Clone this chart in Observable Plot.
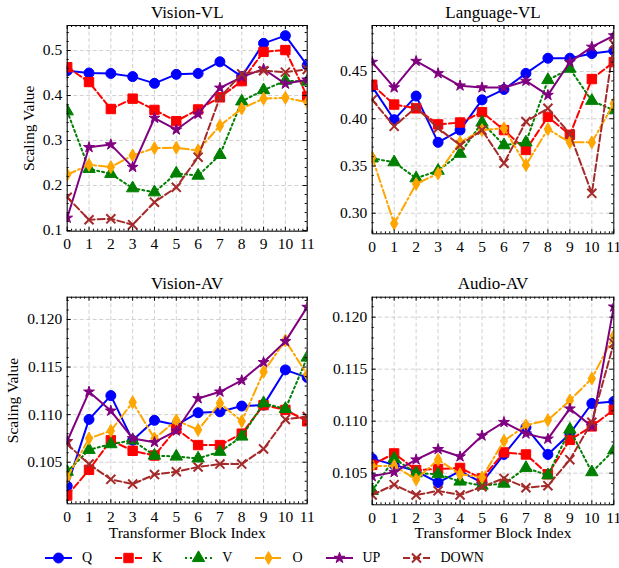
<!DOCTYPE html>
<html><head><meta charset="utf-8">
<script src="https://cdn.jsdelivr.net/npm/d3@7"></script>
<script src="https://cdn.jsdelivr.net/npm/@observablehq/plot@0.6"></script>
<style>
body{margin:0;background:#fff;}
#root{position:relative;width:619px;height:568px;font-family:"Liberation Serif",serif;background:#fff;overflow:hidden;}
#root svg.pl{position:absolute;left:0;top:0;}
#legend{position:absolute;left:45px;top:550px;display:flex;align-items:center;font-size:14px;line-height:16px;}
</style></head><body><div id="root"></div>
<script>
// ---------- data ----------
const blockIndex = [0,1,2,3,4,5,6,7,8,9,10,11];
const seriesNames = ["Q","K","V","O","UP","DOWN"];
const panelTitles = ["Vision-VL","Language-VL","Vision-AV","Audio-AV"];
const yLabel = "Scaling Value";
const xLabel = "Transformer Block Index";

const visionVL_Q    = [0.455,0.450,0.449,0.442,0.427,0.447,0.449,0.475,0.442,0.516,0.533,0.467];
const visionVL_K    = [0.463,0.430,0.370,0.393,0.368,0.343,0.369,0.396,0.432,0.497,0.501,0.398];
const visionVL_V    = [0.365,0.237,0.226,0.194,0.185,0.227,0.222,0.268,0.387,0.412,0.433,0.431];
const visionVL_O    = [0.224,0.246,0.241,0.267,0.283,0.284,0.278,0.333,0.371,0.393,0.395,0.385];
const visionVL_UP   = [0.128,0.285,0.291,0.241,0.350,0.324,0.359,0.417,0.441,0.459,0.426,0.435];
const visionVL_DOWN = [0.174,0.124,0.126,0.113,0.163,0.196,0.263,0.396,0.448,0.455,0.452,0.458];

const languageVL_Q    = [0.434,0.399,0.424,0.375,0.388,0.420,0.431,0.448,0.464,0.464,0.469,0.472];
const languageVL_K    = [0.436,0.415,0.411,0.394,0.396,0.407,0.388,0.367,0.402,0.383,0.442,0.460];
const languageVL_V    = [0.358,0.354,0.337,0.345,0.363,0.396,0.372,0.375,0.441,0.453,0.419,0.409];
const languageVL_O    = [0.359,0.289,0.331,0.342,0.375,0.388,0.390,0.351,0.389,0.375,0.375,0.416];
const languageVL_UP   = [0.460,0.433,0.461,0.448,0.435,0.433,0.433,0.440,0.425,0.460,0.476,0.488];
const languageVL_DOWN = [0.420,0.392,0.412,0.390,0.372,0.388,0.353,0.397,0.411,0.384,0.321,0.479];

const visionAV_Q    = [0.1025,0.1095,0.1120,0.1073,0.1094,0.1089,0.1102,0.1103,0.1109,0.1110,0.1147,0.1139];
const visionAV_K    = [0.1015,0.1042,0.1073,0.1062,0.1057,0.1085,0.1068,0.1068,0.1080,0.1110,0.1105,0.1093];
const visionAV_V    = [0.1040,0.1063,0.1069,0.1073,0.1057,0.1056,0.1054,0.1061,0.1077,0.1112,0.1106,0.1160];
const visionAV_O    = [0.1034,0.1075,0.1083,0.1113,0.1075,0.1094,0.1084,0.1112,0.1093,0.1145,0.1178,0.1142];
const visionAV_UP   = [0.1072,0.1124,0.1104,0.1075,0.1071,0.1083,0.1117,0.1124,0.1136,0.1155,0.1177,0.1213];
const visionAV_DOWN = [0.1069,0.1048,0.1032,0.1027,0.1037,0.1040,0.1045,0.1048,0.1048,0.1064,0.1095,0.1098];

const audioAV_Q    = [0.1064,0.1058,0.1052,0.1041,0.1052,0.1041,0.1068,0.1094,0.1068,0.1088,0.1117,0.1119];
const audioAV_K    = [0.1058,0.1069,0.1053,0.1054,0.1055,0.1045,0.1070,0.1068,0.1049,0.1082,0.1095,0.1111];
const audioAV_V    = [0.1033,0.1064,0.1050,0.1049,0.1042,0.1038,0.1040,0.1055,0.1048,0.1092,0.1051,0.1072];
const audioAV_O    = [0.1057,0.1057,0.1044,0.1063,0.1049,0.1046,0.1081,0.1096,0.1101,0.1120,0.1141,0.1182];
const audioAV_UP   = [0.1047,0.1051,0.1063,0.1073,0.1066,0.1086,0.1099,0.1088,0.1083,0.1112,0.1095,0.1210];
const audioAV_DOWN = [0.1029,0.1039,0.1029,0.1033,0.1029,0.1037,0.1045,0.1036,0.1038,0.1063,0.1099,0.1175];

const yTicksVL1 = [0.1,0.2,0.3,0.4,0.5];
const yTicksVL2 = [0.30,0.35,0.40,0.45];
const yTicksAV  = [0.105,0.110,0.115,0.120];

// ---------- styles ----------
const seriesStyle = {
  Q:    {color:"#0000ff", dash:null,        symbol:d3.symbolCircle,   r:5,   filled:true},
  K:    {color:"#ff0000", dash:"7,3",       symbol:d3.symbolSquare,   r:5.3, filled:true},
  V:    {color:"#008000", dash:"2,3",       symbol:d3.symbolTriangle, r:4.6, filled:true},
  O:    {color:"#ffa500", dash:"9,3,2,3",   symbol:d3.symbolDiamond,  r:3.9, filled:true},
  UP:   {color:"#800080", dash:null,        symbol:d3.symbolStar,     r:3.4, filled:true},
  DOWN: {color:"#a52a2a", dash:"7,3",       symbol:d3.symbolTimes,    r:4.2, filled:false}
};

const W = 619, H = 568;
const panels = [
  {title:panelTitles[0], values:[visionVL_Q,visionVL_K,visionVL_V,visionVL_O,visionVL_UP,visionVL_DOWN],
   frame:[66.7,25,306.7,230.7], domain:[0.0985,0.5556], ticks:yTicksVL1, step:0.1, fmt:d3.format(".1f"), ylab:-37.7, xlab:null},
  {title:panelTitles[1], values:[languageVL_Q,languageVL_K,languageVL_V,languageVL_O,languageVL_UP,languageVL_DOWN],
   frame:[371.7,25,613.3,233.3], domain:[0.2782,0.4987], ticks:yTicksVL2, step:0.05, fmt:d3.format(".2f"), ylab:null, xlab:null},
  {title:panelTitles[2], values:[visionAV_Q,visionAV_K,visionAV_V,visionAV_O,visionAV_UP,visionAV_DOWN],
   frame:[66.7,296.7,306.7,503.3], domain:[0.10063,0.12234], ticks:yTicksAV, step:0.005, fmt:d3.format(".3f"), ylab:-53.7, xlab:29.7},
  {title:panelTitles[3], values:[audioAV_Q,audioAV_K,audioAV_V,audioAV_O,audioAV_UP,audioAV_DOWN],
   frame:[371.7,296.7,613.3,504.3], domain:[0.10196,0.12192], ticks:yTicksAV, step:0.005, fmt:d3.format(".3f"), ylab:null, xlab:28.7}
];

const root = document.getElementById("root");
const gridStyle = {stroke:"#c4c4c4", strokeWidth:0.8, strokeDasharray:"4,2.5"};
const xMinor = d3.range(0, 11.0001, 0.2).filter(v => Math.abs(v - Math.round(v)) > 1e-6);

panels.forEach(p => {
  const [fl, ft, fr, fb] = p.frame;
  const innerW = fr - fl, innerH = fb - ft;
  const ms = p.step / 5;
  const yMinor = d3.range(Math.ceil(p.domain[0]/ms), Math.floor(p.domain[1]/ms)+1)
    .map(k => +(k*ms).toFixed(6))
    .filter(v => p.ticks.every(t => Math.abs(t - v) > ms/10));

  const marks = [
    Plot.ruleX(blockIndex, {x: d => d, ...gridStyle}),
    Plot.ruleY(p.ticks, {y: d => d, ...gridStyle})
  ];
  seriesNames.forEach((s, i) => {
    const st = seriesStyle[s];
    const rows = p.values[i].map((v, j) => ({x: blockIndex[j], y: v}));
    marks.push(Plot.line(rows, {x:"x", y:"y", stroke: st.color, strokeWidth: 2, strokeDasharray: st.dash ?? undefined, clip: true}));
    marks.push(Plot.dot(rows, {x:"x", y:"y", symbol: st.symbol, r: st.r,
      fill: st.filled ? st.color : "none", stroke: st.color, strokeWidth: st.filled ? 1 : 2, clip: true}));
  });
  // inward ticks on all four sides
  marks.push(
    Plot.tickX(blockIndex, {x: d => d, insetTop: innerH - 4, stroke: "black"}),
    Plot.tickX(blockIndex, {x: d => d, insetBottom: innerH - 4, stroke: "black"}),
    Plot.tickX(xMinor, {x: d => d, insetTop: innerH - 2, stroke: "black"}),
    Plot.tickX(xMinor, {x: d => d, insetBottom: innerH - 2, stroke: "black"}),
    Plot.tickY(p.ticks, {y: d => d, insetRight: innerW - 4, stroke: "black"}),
    Plot.tickY(p.ticks, {y: d => d, insetLeft: innerW - 4, stroke: "black"}),
    Plot.tickY(yMinor, {y: d => d, insetRight: innerW - 2, stroke: "black"}),
    Plot.tickY(yMinor, {y: d => d, insetLeft: innerW - 2, stroke: "black"}),
    Plot.frame({stroke: "black", strokeWidth: 1}),
    Plot.axisX({ticks: blockIndex, tickSize: 0, tickPadding: 7, tickFormat: d => String(d), fontSize: 15.5, label: null}),
    Plot.axisY({ticks: p.ticks, tickSize: 0, tickPadding: 5, tickFormat: p.fmt, fontSize: 15.5, label: null}),
    Plot.text([p.title], {text: d => d, frameAnchor: "top", dy: -13.3, lineAnchor: "middle", fontSize: 17})
  );
  if (p.ylab !== null) marks.push(Plot.text([yLabel], {text: d => d, frameAnchor: "left", rotate: -90, dx: p.ylab, lineAnchor: "middle", textAnchor: "middle", fontSize: 15.5}));
  if (p.xlab !== null) marks.push(Plot.text([xLabel], {text: d => d, frameAnchor: "bottom", dy: p.xlab, lineAnchor: "middle", fontSize: 15.5}));

  const svg = Plot.plot({
    width: W, height: H,
    marginLeft: fl, marginTop: ft, marginRight: W - fr, marginBottom: H - fb,
    x: {domain: [0, 11]},
    y: {domain: p.domain},
    style: {background: "transparent", overflow: "visible", fontFamily: "'Liberation Serif', serif", color: "black"},
    marks
  });
  svg.classList.add("pl");
  root.appendChild(svg);
});

// ---------- legend ----------
const legend = d3.select(root).append("div").attr("id", "legend");
seriesNames.forEach(s => {
  const st = seriesStyle[s];
  const item = legend.append("div").style("display","flex").style("align-items","center").style("margin-right","23px");
  const sv = item.append("svg").attr("width", 27).attr("height", 16).style("overflow","visible");
  sv.append("line").attr("x1",0).attr("x2",27).attr("y1",8).attr("y2",8)
    .attr("stroke", st.color).attr("stroke-width", 2).attr("stroke-dasharray", st.dash);
  sv.append("path").attr("d", d3.symbol(st.symbol, Math.PI*st.r*st.r)())
    .attr("transform","translate(13.5,8)")
    .attr("fill", st.filled ? st.color : "none").attr("stroke", st.color).attr("stroke-width", st.filled ? 1 : 2);
  item.append("span").text(s).style("margin-left","10px");
});
</script>
</body></html>
